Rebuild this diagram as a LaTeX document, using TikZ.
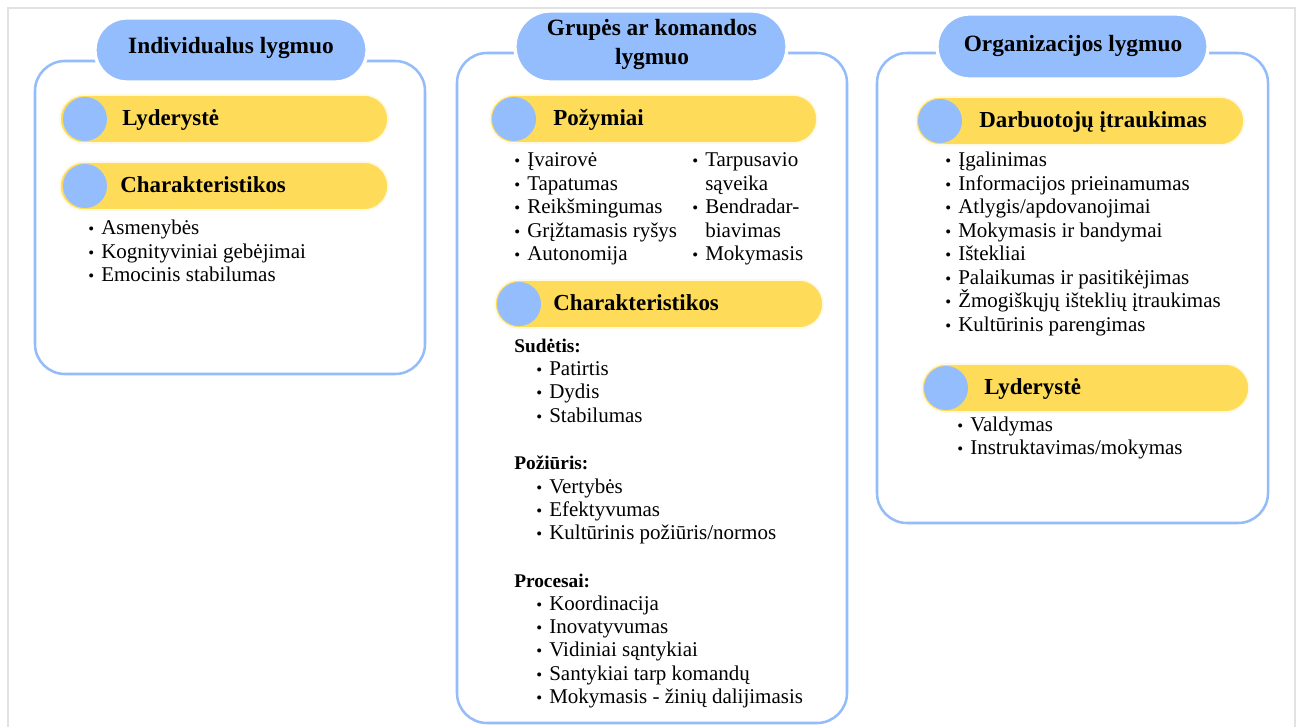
\documentclass[tikz,border=0pt]{standalone}
\usepackage{fontspec}
\setmainfont{Liberation Serif}
\definecolor{pillblue}{HTML}{93BDFD}
\definecolor{frameblue}{HTML}{94BCFB}
\definecolor{baryellow}{HTML}{FEDC5A}
\definecolor{framegray}{HTML}{E2E2E2}
\newcommand\bul{\makebox[9.75pt][l]{\scalebox{0.8}{\textbullet}}}
\newcommand\nobul{\makebox[9.75pt][l]{}}
\tikzset{
  panel/.style={draw=frameblue, line width=1.9pt, fill=white, rounded corners=22.5pt},
  headpill/.style={fill=pillblue, draw=white, line width=2.5pt},
  bar/.style={fill=baryellow, draw=baryellow!18, line width=1.2pt, rounded corners=17.9pt},
  dot/.style={fill=pillblue},
  headtext/.style={inner sep=0pt, anchor=base, align=center,
    font=\fontsize{17.5}{21.75}\selectfont\bfseries},
  bartext/.style={inner sep=0pt, anchor=base west,
    font=\fontsize{17.2}{20}\selectfont\bfseries},
  grouptext/.style={inner sep=0pt, anchor=base west,
    font=\fontsize{14.5}{17}\selectfont\bfseries},
  item/.style={inner sep=0pt, anchor=base west,
    font=\fontsize{15.75}{17.6}\selectfont},
}
\begin{document}
\begin{tikzpicture}[x=0.75pt, y=-0.75pt]
\useasboundingbox (0,0) rectangle (1302,727);
\fill[white] (0,0) rectangle (1302,727);
% outer frame
\draw[framegray, line width=1.5pt] (7.5,740) -- (7.5,8) -- (1295,8) -- (1295,740);

% ---------------- individual level ----------------
\draw[panel] (35,61) rectangle (425,374);
\draw[headpill, rounded corners=23.9pt] (95,18) rectangle (367,82);
\node[headtext] (h1) at (231,54) {Individualus lygmuo};
\draw[bar] (60,95) rectangle (388,143);
\fill[dot] (85,119) circle[radius=22];
\node[bartext] (lyd1) at (122,125.5) {Lyderystė};
\draw[bar] (60,162) rectangle (388,210);
\fill[dot] (85,186) circle[radius=22];
\node[bartext] (char1) at (120,192.7) {Charakteristikos};
\foreach \t [count=\i] in {Asmenybės, Kognityviniai gebėjimai, Emocinis stabilumas}
  \node[item] (ind\i) at (88,{235+23.4*(\i-1)}) {\bul\t};

% ---------------- group / team level ----------------
\draw[panel] (457,53) rectangle (847,723);
\draw[headpill, rounded corners=26.5pt] (515,11) rectangle (787,82);
% base anchor of a two-line node sits on its last line
\node[headtext] (h2) at (652,65) {Grupės ar komandos\\lygmuo};
\draw[bar] (490,95) rectangle (817,143);
\fill[dot] (514,119) circle[radius=22];
\node[bartext] (poz) at (553,125.5) {Požymiai};
\foreach \t [count=\i] in {Įvairovė, Tapatumas, Reikšmingumas, Grįžtamasis ryšys, Autonomija}
  \node[item] (pl\i) at (514,{167+23.4*(\i-1)}) {\bul\t};
\node[item] (pr1) at (692,167) {\bul Tarpusavio};
\node[item] (pr2) at (692,190.4) {\nobul sąveika};
\node[item] (pr3) at (692,213.8) {\bul Bendradar-};
\node[item] (pr4) at (692,237.2) {\nobul biavimas};
\node[item] (pr5) at (692,260.6) {\bul Mokymasis};
\draw[bar] (495,280) rectangle (823,328);
\fill[dot] (519,304) circle[radius=22];
\node[bartext] (char2) at (553,310.7) {Charakteristikos};
\node[grouptext] (sud) at (514,352) {Sudėtis:};
\foreach \t [count=\i] in {Patirtis, Dydis, Stabilumas}
  \node[item] (sud\i) at (536,{375.5+23.4*(\i-1)}) {\bul\t};
\node[grouptext] (pozi) at (514,469) {Požiūris:};
\foreach \t [count=\i] in {Vertybės, Efektyvumas, Kultūrinis požiūris/normos}
  \node[item] (poz\i) at (536,{493+23.4*(\i-1)}) {\bul\t};
\node[grouptext] (proc) at (514,587) {Procesai:};
\foreach \t [count=\i] in {Koordinacija, Inovatyvumas, Vidiniai sąntykiai, Santykiai tarp komandų, Mokymasis - žinių dalijimasis}
  \node[item] (proc\i) at (536,{610+23.4*(\i-1)}) {\bul\t};

% ---------------- organisation level ----------------
\draw[panel] (877,53) rectangle (1268,523);
\draw[headpill, rounded corners=24.4pt] (937,14) rectangle (1208,79);
\node[headtext] (h3) at (1073,51.7) {Organizacijos lygmuo};
\draw[bar] (916,97) rectangle (1244,145);
\fill[dot] (940,121) circle[radius=22];
\node[bartext] (darb) at (979,127.5) {Darbuotojų įtraukimas};
\foreach \t [count=\i] in {Įgalinimas, Informacijos prieinamumas, Atlygis/apdovanojimai, Mokymasis ir bandymai, Ištekliai, Palaikumas ir pasitikėjimas, Žmogiškųjų išteklių įtraukimas, Kultūrinis parengimas}
  \node[item] (org\i) at (945,{167+23.45*(\i-1)}) {\bul\t};
\draw[bar] (922,364) rectangle (1249,412);
\fill[dot] (946,388) circle[radius=22];
\node[bartext] (lyd3) at (984,394.5) {Lyderystė};
\node[item] (val) at (957,431) {\bul Valdymas};
\node[item] (instr) at (957,454.4) {\bul Instruktavimas/mokymas};
\end{tikzpicture}
\end{document}
